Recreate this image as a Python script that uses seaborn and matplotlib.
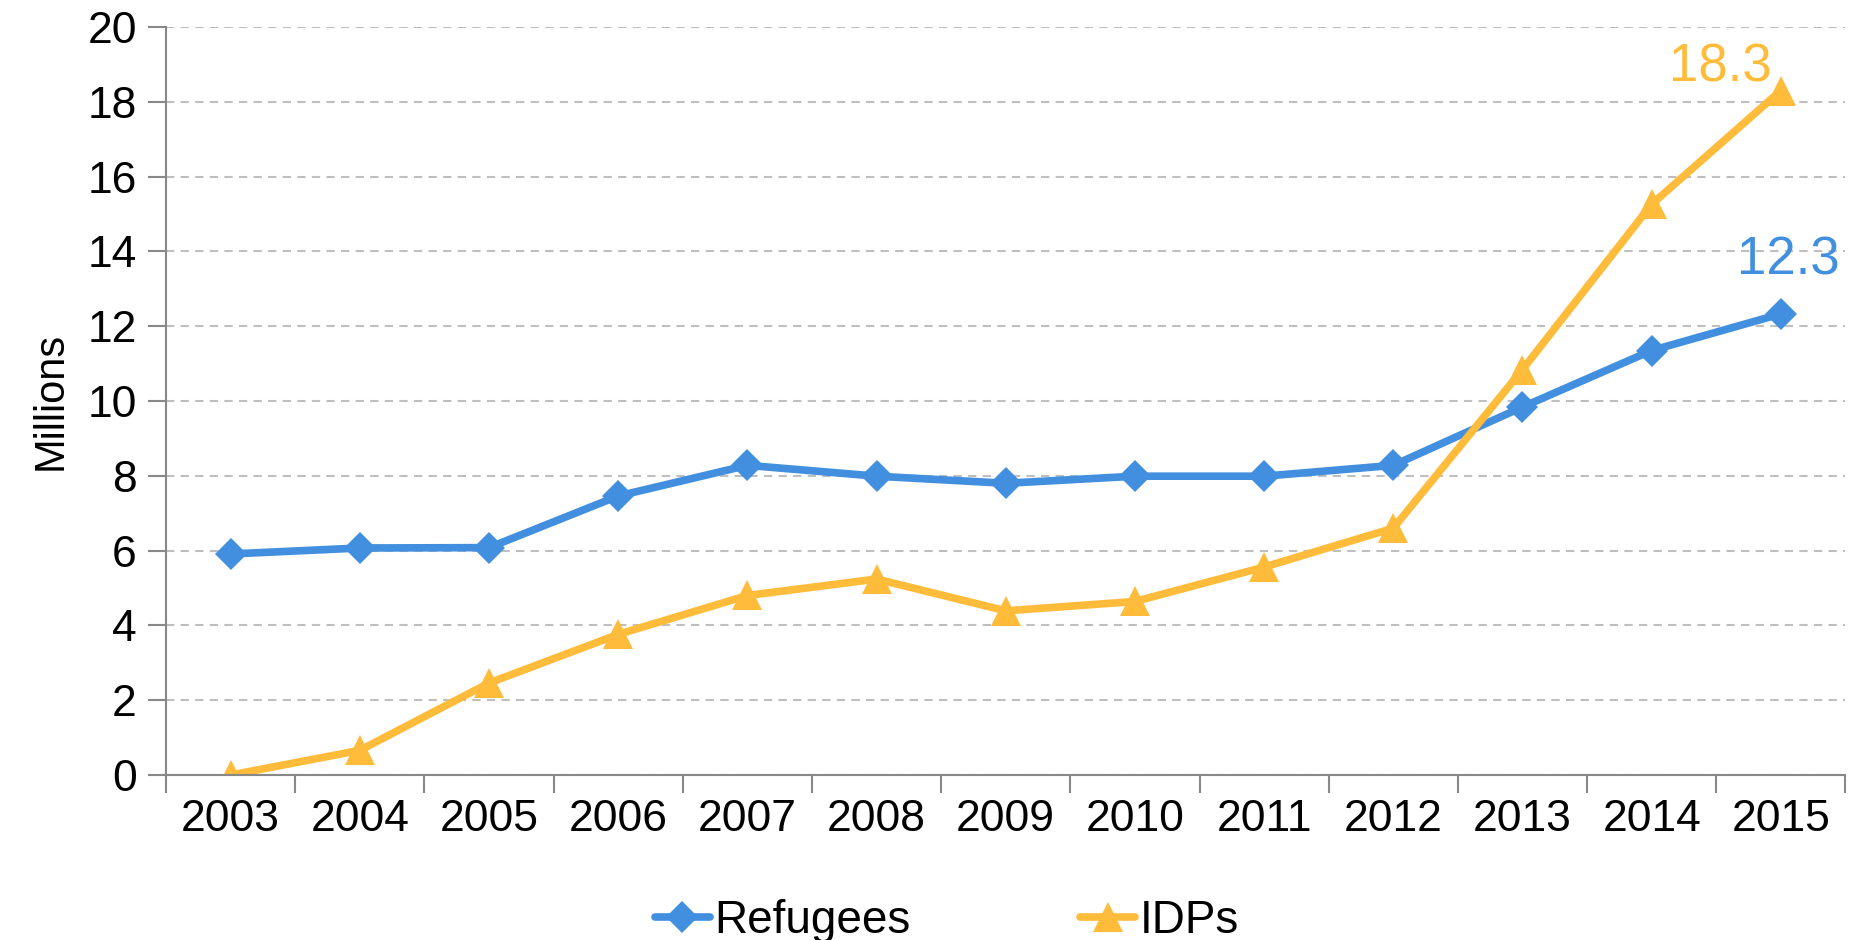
import matplotlib
matplotlib.use("Agg")
import matplotlib.pyplot as plt
import seaborn as sns
import pandas as pd
from matplotlib.ticker import FixedLocator

years = ["2003", "2004", "2005", "2006", "2007", "2008", "2009",
         "2010", "2011", "2012", "2013", "2014", "2015"]
refugees = [5.91, 6.07, 6.08, 7.46, 8.28, 7.99, 7.80, 7.99, 7.99, 8.28, 9.84, 11.35, 12.33]
idps = [0.0, 0.66, 2.46, 3.76, 4.80, 5.24, 4.39, 4.64, 5.56, 6.60, 10.84, 15.26, 18.3]

BLUE = "#418FDE"
YELLOW = "#FFBB3A"

sns.set_theme(style="white")
plt.rcParams["font.family"] = ["Liberation Sans", "DejaVu Sans"]

df = pd.DataFrame({"x": range(len(years)), "Refugees": refugees, "IDPs": idps})

fig = plt.figure(figsize=(18.51, 9.40), dpi=100)
ax = fig.add_axes([0.0897, 0.1755, 0.9073, 0.7958])

sns.lineplot(data=df, x="x", y="Refugees", ax=ax, color=BLUE, lw=5.5,
             marker="D", markersize=16, markeredgewidth=0, label="Refugees")
sns.lineplot(data=df, x="x", y="IDPs", ax=ax, color=YELLOW, lw=5.5,
             marker="^", markersize=21, markeredgewidth=0, label="IDPs")

ax.set_xlim(-0.5, len(years) - 0.5)
ax.set_ylim(0, 20)
ax.set_yticks(range(0, 21, 2))
ax.set_xticks(range(len(years)))
ax.set_xticklabels(years)
ax.xaxis.set_minor_locator(FixedLocator([i - 0.5 for i in range(len(years) + 1)]))
ax.tick_params(axis="x", which="major", length=0, labelsize=32, pad=17, labelcolor="black")
ax.tick_params(axis="x", which="minor", length=13, width=1.5, color="#888888", bottom=True)
ax.tick_params(axis="y", length=13, width=1.5, color="#888888", labelsize=32, pad=8,
               left=True, labelcolor="black")

ax.grid(axis="y", linestyle=(0, (4, 3)), color="#BFBFBF", lw=1.5)
ax.set_axisbelow(True)
for s in ["top", "right"]:
    ax.spines[s].set_visible(False)
for s in ["left", "bottom"]:
    ax.spines[s].set_color("#888888")
    ax.spines[s].set_linewidth(1.5)

ax.set_xlabel("")
ax.set_ylabel("Millions", fontsize=30, labelpad=12, color="black")

ax.text(len(years) - 1.47, idps[-1] + 0.23, f"{idps[-1]:.1f}", color=YELLOW,
        fontsize=38, ha="center", va="baseline")
ax.text(len(years) - 0.94, refugees[-1] + 1.04, f"{refugees[-1]:.1f}", color=BLUE,
        fontsize=38, ha="center", va="baseline")

leg = ax.legend(loc="center", bbox_to_anchor=(0.465, -0.195), ncol=2, frameon=False,
                fontsize=33, handlelength=1.2, handletextpad=0.1, columnspacing=3.7,
                borderaxespad=0, borderpad=0)
for t in leg.get_texts():
    t.set_color("black")

fig.savefig("out.png", dpi=100)
